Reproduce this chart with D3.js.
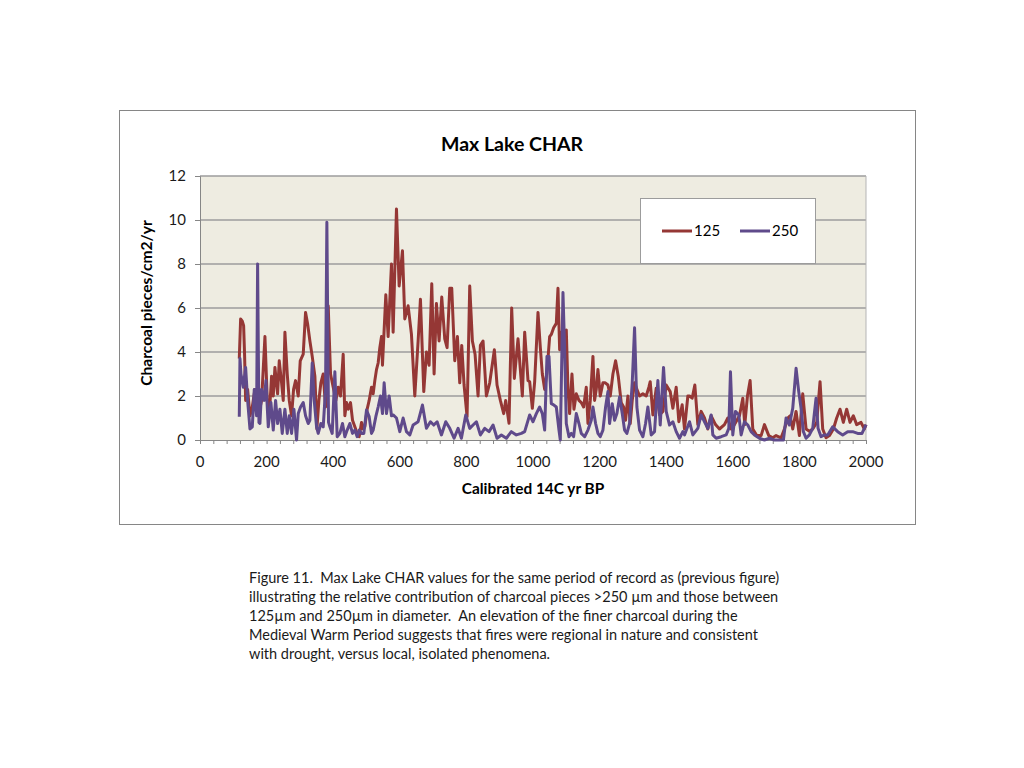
<!DOCTYPE html>
<html>
<head>
<meta charset="utf-8">
<script src="https://cdn.jsdelivr.net/npm/d3@7.9.0/dist/d3.min.js"></script>
<style>
  body { margin: 0; background: #fff; }
  svg { font-family: Lato, "Open Sans", sans-serif; }
  .caption { white-space: pre; }
</style>
</head>
<body>
<svg id="chart" width="1024" height="768"></svg>
<script>
// 125 µm series: [year, value]
const years125 = [118,122,127,131,134,137,143,150,157,165,175,185,195,202,208,215,220,225,233,238,245,250,255,262,268,275,281,287,295,301,310,317,323,330,337,345,351,357,363,370,377,385,392,400,408,415,422,430,435,440,445,452,458,465,472,478,485,490,495,502,508,515,520,525,530,535,540,545,548,552,558,565,575,580,590,598,608,615,625,635,645,655,662,672,680,688,696,703,710,718,726,735,742,750,756,765,773,780,786,793,802,810,818,826,835,842,850,860,870,884,892,902,912,918,928,936,944,955,968,975,985,990,998,1005,1015,1022,1028,1035,1042,1050,1055,1062,1070,1075,1080,1085,1092,1100,1105,1110,1117,1123,1130,1138,1145,1152,1160,1165,1172,1180,1185,1190,1195,1202,1210,1217,1225,1232,1240,1248,1256,1265,1272,1278,1285,1292,1298,1305,1312,1320,1330,1340,1348,1352,1360,1370,1380,1390,1400,1412,1420,1430,1438,1448,1455,1465,1470,1478,1486,1495,1505,1515,1525,1535,1548,1560,1575,1585,1595,1605,1620,1630,1636,1644,1652,1660,1672,1685,1695,1708,1720,1730,1745,1755,1765,1772,1780,1790,1800,1810,1820,1830,1840,1852,1862,1870,1880,1890,1902,1912,1922,1932,1942,1952,1962,1972,1985,1995,2000];
const values125 = [3.7,5.5,5.4,5.2,3.8,1.8,2.3,1.1,1.5,2.3,1.1,1.8,4.7,1.8,1.1,2.9,2.0,3.3,2.1,3.6,2.6,1.8,4.9,3.0,1.8,1.1,2.3,2.7,2.0,3.6,3.9,5.8,5.3,4.5,3.8,2.9,0.5,1.8,2.6,3.0,1.5,6.1,3.0,2.4,1.8,2.4,2.0,3.9,1.1,1.7,1.4,1.7,0.9,0.6,0.3,0.15,0.8,0.5,0.6,1.4,1.8,2.4,2.1,2.7,3.2,3.5,4.2,4.7,3.4,4.7,6.6,4.7,8.0,4.9,10.5,7.0,8.6,5.5,6.1,4.8,2.0,4.5,6.4,2.2,4.0,3.4,7.1,3.0,6.2,4.5,6.5,4.6,4.2,6.9,6.9,3.6,4.7,2.6,4.3,2.5,1.06,7.0,4.5,3.9,2.0,4.3,4.5,2.0,2.6,4.1,2.5,1.8,1.2,1.8,0.76,6.0,2.8,4.6,2.0,4.9,2.7,2.65,1.44,2.65,5.8,4.2,3.0,2.3,3.1,4.7,4.8,5.1,5.3,6.9,4.1,4.9,4.9,5.0,2.3,1.2,3.0,1.4,2.1,1.8,1.7,1.5,2.4,0.75,1.8,3.8,1.8,2.3,3.2,2.0,2.6,2.6,2.5,2.0,3.0,3.6,2.9,1.7,1.5,0.9,2.0,0.75,1.8,2.6,2.3,2.0,2.1,2.0,2.4,2.65,1.14,2.35,1.14,1.3,2.5,2.2,1.44,2.4,0.83,1.6,0.5,2.0,2.0,1.9,2.5,0.7,1.3,1.0,0.5,1.1,0.7,0.5,0.7,1.0,0.5,0.7,1.1,1.9,0.7,2.0,2.7,0.5,0.2,0.2,0.7,0.2,0.1,0.2,0.1,0.5,1.0,1.1,0.5,1.3,0.2,2.1,0.5,0.4,0.5,0.8,2.65,0.5,0.1,0.2,0.5,1.0,1.4,0.8,1.4,0.8,1.1,0.7,0.8,0.5,0.7];

// 250 µm series: [year, value]
const years250 = [118,120,123,130,137,143,150,157,163,170,173,177,180,185,193,198,205,213,220,227,233,240,247,255,262,268,275,282,290,295,302,310,317,325,330,337,343,350,355,363,370,377,381,386,390,397,405,412,420,428,435,442,450,458,465,472,478,485,492,500,508,515,520,528,535,542,548,553,560,568,575,580,590,600,610,620,630,640,655,668,680,692,702,712,725,738,750,763,775,785,798,810,820,830,842,855,868,880,892,905,920,935,950,965,975,990,1000,1010,1020,1028,1035,1042,1048,1055,1062,1070,1078,1082,1090,1095,1100,1108,1115,1122,1130,1138,1145,1155,1165,1175,1180,1188,1195,1202,1210,1218,1225,1230,1238,1245,1252,1260,1268,1275,1282,1290,1298,1305,1312,1320,1330,1338,1345,1355,1365,1375,1382,1392,1400,1410,1420,1430,1440,1450,1455,1470,1480,1495,1505,1515,1525,1535,1540,1550,1565,1580,1588,1593,1600,1608,1618,1625,1635,1645,1655,1665,1680,1695,1710,1725,1740,1752,1760,1770,1780,1790,1798,1805,1812,1820,1830,1840,1850,1856,1865,1875,1885,1900,1915,1930,1945,1960,1975,1988,1995,2000];
const values250 = [1.06,3.7,3.0,2.4,3.3,1.8,0.5,0.6,2.3,1.1,8.0,0.8,0.75,2.3,1.8,2.7,0.6,1.7,0.45,1.8,0.75,1.4,0.3,1.4,0.3,1.1,0.3,1.4,0.0,1.2,1.5,1.7,1.1,0.75,0.9,3.5,1.8,0.6,0.3,0.75,0.6,2.3,9.9,0.8,0.6,0.3,3.1,0.15,0.3,0.75,0.15,0.45,0.75,0.3,0.45,0.15,0.45,0.3,0.3,1.36,1.06,0.3,0.45,1.06,1.5,2.0,1.2,2.6,1.2,2.0,1.1,1.14,1.0,0.38,1.0,0.38,0.23,0.68,0.83,1.59,0.53,0.83,0.68,0.83,0.23,0.83,0.53,0.08,0.53,0.08,1.14,0.53,0.68,0.83,0.23,0.53,0.38,0.68,0.08,0.23,0.08,0.38,0.23,0.3,0.38,1.14,0.83,1.2,1.5,1.2,0.45,3.8,3.8,1.65,1.6,1.5,0.45,0.0,6.7,4.1,0.75,0.15,0.3,0.15,1.2,0.75,0.3,0.15,0.45,0.9,1.5,0.75,0.3,0.15,0.45,1.5,2.2,0.75,1.65,0.9,1.2,1.95,1.2,0.45,0.3,0.75,2.6,5.1,1.5,0.45,0.15,0.75,1.5,0.23,0.38,2.7,0.68,3.3,1.3,0.68,0.83,0.38,0.08,0.38,0.23,0.83,0.23,0.53,1.14,0.83,0.53,1.14,0.23,0.08,0.15,0.23,0.53,3.1,0.23,1.3,1.14,0.23,0.83,0.68,0.38,0.23,0.08,0.0,0.08,0.0,0.0,0.0,1.0,0.68,1.44,3.26,2.2,1.44,0.38,0.08,0.23,0.53,1.9,0.53,0.15,0.23,0.23,0.6,0.38,0.23,0.38,0.38,0.3,0.3,0.53,0.7];

const seriesNames = ['125', '250'];
const seriesColors = ['#953735', '#5f4a8b'];
const yTicks = [0, 2, 4, 6, 8, 10, 12];
const xTicks = [0, 200, 400, 600, 800, 1000, 1200, 1400, 1600, 1800, 2000];

const captionLines = [
  'Figure 11.  Max Lake CHAR values for the same period of record as (previous figure)',
  'illustrating the relative contribution of charcoal pieces >250 µm and those between',
  '125µm and 250µm in diameter.  An elevation of the finer charcoal during the',
  'Medieval Warm Period suggests that fires were regional in nature and consistent',
  'with drought, versus local, isolated phenomena.'
];

const svg = d3.select('#chart');

// chart frame
svg.append('rect')
  .attr('x', 119.5).attr('y', 110.5)
  .attr('width', 796).attr('height', 414)
  .attr('fill', '#fff').attr('stroke', '#868686').attr('stroke-width', 1);

const x = d3.scaleLinear().domain([0, 2000]).range([200, 866]);
const y = d3.scaleLinear().domain([0, 12]).range([440, 176]);

// plot area
svg.append('rect')
  .attr('x', x(0)).attr('y', y(12))
  .attr('width', x(2000) - x(0)).attr('height', y(0) - y(12))
  .attr('fill', '#eeece1');

// gridlines
svg.append('g')
  .selectAll('line')
  .data(yTicks.filter((d) => d > 0))
  .join('line')
  .attr('x1', x(0)).attr('x2', x(2000))
  .attr('y1', (d) => y(d)).attr('y2', (d) => y(d))
  .attr('stroke', '#9c9c9c').attr('stroke-width', 1.5);

// right edge of plot area
svg.append('line')
  .attr('x1', x(2000)).attr('x2', x(2000))
  .attr('y1', y(12)).attr('y2', y(0))
  .attr('stroke', '#b5b5b5').attr('stroke-width', 1);

// y axis
const yAxis = d3.axisLeft(y).tickValues(yTicks).tickSize(5).tickPadding(9);
const gy = svg.append('g').attr('transform', `translate(${x(0)},0)`).call(yAxis);
gy.select('.domain').attr('stroke', '#868686');
gy.selectAll('.tick line').attr('stroke', '#868686');
gy.selectAll('.tick text').attr('font-size', 15).attr('fill', '#1a1a1a')
  .attr('font-family', 'Lato, sans-serif');

// x axis with minor ticks every 40
const minor = d3.range(0, 2001, 40);
const gx = svg.append('g').attr('transform', `translate(0,${y(0)})`)
  .call(d3.axisBottom(x).tickValues(minor).tickSize(4).tickFormat(''));
gx.select('.domain').attr('stroke', '#868686');
gx.selectAll('.tick line').attr('stroke', '#868686');

svg.append('g')
  .selectAll('text')
  .data(xTicks)
  .join('text')
  .attr('x', (d) => x(d)).attr('y', 467)
  .attr('text-anchor', 'middle')
  .attr('font-size', 15).attr('fill', '#1a1a1a')
  .text((d) => d);

// lines
const line = d3.line().x((d) => x(d[0])).y((d) => y(d[1]));
const data125 = years125.map((yr, i) => [yr, values125[i]]);
const data250 = years250.map((yr, i) => [yr, values250[i]]);

[data125, data250].forEach((series, i) => {
  svg.append('path')
    .datum(series)
    .attr('d', line)
    .attr('fill', 'none')
    .attr('stroke', seriesColors[i])
    .attr('stroke-width', 3)
    .attr('stroke-linejoin', 'round');
});

// titles
svg.append('text')
  .attr('x', 512).attr('y', 151)
  .attr('text-anchor', 'middle')
  .attr('font-size', 19.5).attr('font-weight', 'bold')
  .text('Max Lake CHAR');

svg.append('text')
  .attr('x', 533).attr('y', 494)
  .attr('text-anchor', 'middle')
  .attr('font-size', 15.4).attr('font-weight', 'bold')
  .text('Calibrated 14C yr BP');

svg.append('text')
  .attr('transform', 'translate(152,303) rotate(-90)')
  .attr('text-anchor', 'middle')
  .attr('font-size', 15.6).attr('font-weight', 'bold')
  .text('Charcoal pieces/cm2/yr');

// legend
const legend = svg.append('g');
legend.append('rect')
  .attr('x', 640.5).attr('y', 198.5)
  .attr('width', 175).attr('height', 65)
  .attr('fill', '#fff').attr('stroke', '#9c9c9c');

seriesNames.forEach((name, i) => {
  const lx = 662 + i * 78;
  legend.append('line')
    .attr('x1', lx).attr('x2', lx + 30)
    .attr('y1', 231).attr('y2', 231)
    .attr('stroke', seriesColors[i]).attr('stroke-width', 3);
  legend.append('text')
    .attr('x', lx + 32).attr('y', 236)
    .attr('font-size', 15)
    .text(name);
});

// caption
svg.append('g')
  .selectAll('text')
  .data(captionLines)
  .join('text')
  .attr('class', 'caption')
  .attr('x', 249)
  .attr('y', (d, i) => 583 + i * 19)
  .attr('font-size', 14.5)
  .attr('fill', '#1a1a1a')
  .text((d) => d);
</script>
</body>
</html>
